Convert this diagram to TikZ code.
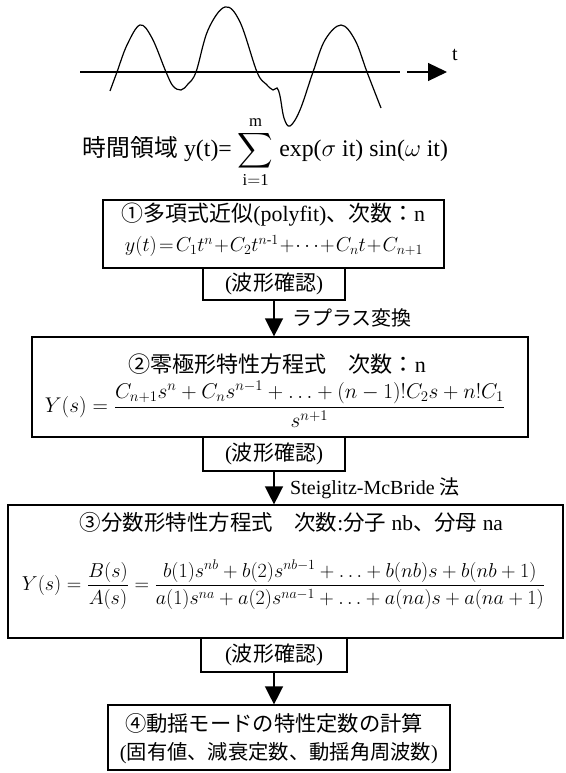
\documentclass[tikz,border=0pt]{standalone}
\usepackage{fontspec}
\usepackage{amsmath}
\setmainfont{Liberation Serif}
\newfontfamily\jp{Noto Sans CJK JP}
\usetikzlibrary{arrows.meta}
\tikzset{
  frame/.style={draw, line width=1.2pt, inner sep=0pt},
  txt/.style={inner sep=0pt, font=\fontsize{20}{24}\selectfont},
  flow/.style={line width=1.4pt, -{Triangle[length=18pt,width=18pt]}},
}
\newcommand{\fitw}[2]{\resizebox{#1}{!}{#2}}
\begin{document}
\begin{tikzpicture}[x=1pt,y=-1pt]
\useasboundingbox (0,0) rectangle (565,773);
% wave
\draw[line width=1.2pt] plot[smooth, tension=0.6] coordinates {(110,91) (117,72) (127,45) (140,25) (152,38) (166,72) (173,86) (181,90) (188,84) (196,72) (208,30) (225,7) (240,22) (257,72) (266,84) (273,90) (277,88) (280,96) (284,118) (290,126) (300,110) (313,72) (325,40) (341,25) (355,40) (367,72) (381,108)};
\coordinate (ax0) at (80,72);
\coordinate (ax1) at (400,72);
\draw[line width=1.2pt] (ax0) -- (ax1);
\coordinate (ar0) at (407,72);
\coordinate (ar1) at (447,72);
\draw[line width=1.2pt, -{Triangle[length=19pt,width=18pt]}] (ar0) -- (ar1);
\node[txt] (t) at (455,55) {t};
\node[txt] (eq0) at (265.5,152) {\fitw{365pt}{{\jp 時間領域} y(t)= $\displaystyle\sum_{\mathrm{i=1}}^{\mathrm{m}}$ exp($\sigma$ it) sin($\omega$ it)}};
% boxes
\node[frame, minimum width=341pt, minimum height=68pt] (b1) at (273.5,234) {};
\node[frame, minimum width=142pt, minimum height=32pt] (c1) at (274,284) {};
\node[frame, minimum width=496pt, minimum height=100pt] (b2) at (280,387) {};
\node[frame, minimum width=142pt, minimum height=34pt] (c2) at (274,454) {};
\node[frame, minimum width=555pt, minimum height=133pt] (b3) at (285.5,571.5) {};
\node[frame, minimum width=146pt, minimum height=34pt] (c3) at (274,655) {};
\node[frame, minimum width=342pt, minimum height=65pt] (b4) at (279,737.5) {};
% texts
\node[txt] (h1) at (273.5,215) {\fitw{303pt}{{\jp ①多項式近似}(polyfit){\jp 、次数：}n}};
\node[txt] (f1) at (274,246) {\fitw{298pt}{$y(t)\!=\!C_1t^n\!+\!C_2t^{n\text{-}1}\!+\!\cdots\!+\!C_nt\!+\!C_{n+1}$}};
\node[txt] (k1) at (c1) {\fitw{98pt}{({\jp 波形確認})}};
\node[txt] (k2) at (c2) {\fitw{98pt}{({\jp 波形確認})}};
\node[txt] (k3) at (c3) {\fitw{98pt}{({\jp 波形確認})}};
\node[txt, anchor=west] (l1) at (292,318) {{\jp ラプラス変換}};
\node[txt, anchor=west] (l2) at (290,488) {Steiglitz-McBride {\jp 法}};
\node[txt] (h2) at (277,364) {\fitw{298pt}{{\jp ②零極形特性方程式　次数：}n}};
\node[txt] (f2) at (275,404) {\fitw{460pt}{$Y(s)=\dfrac{C_{n+1}s^n+C_ns^{n-1}+\ldots+(n-1)!C_2s+n!C_1}{s^{n+1}}$}};
\node[txt] (h3) at (291.5,522) {\fitw{423pt}{{\jp ③分数形特性方程式　次数}:{\jp 分子} nb{\jp 、分母} na}};
\node[txt] (f3) at (283.5,585) {\fitw{523pt}{$Y(s)=\dfrac{B(s)}{A(s)}=\dfrac{b(1)s^{nb}+b(2)s^{nb-1}+\ldots+b(nb)s+b(nb+1)}{a(1)s^{na}+a(2)s^{na-1}+\ldots+a(na)s+a(na+1)}$}};
\node[txt] (m1) at (274,723) {\fitw{298pt}{{\jp ④動揺モードの特性定数の計算}}};
\node[txt] (m2) at (279,753) {\fitw{318pt}{({\jp 固有値、減衰定数、動揺角周波数})}};
% connectors
\draw[flow] (c1.south) -- (b2.north -| c1.south);
\draw[flow] (c2.south) -- (b3.north -| c2.south);
\draw[flow] (c3.south) -- (b4.north -| c3.south);
\end{tikzpicture}
\end{document}
